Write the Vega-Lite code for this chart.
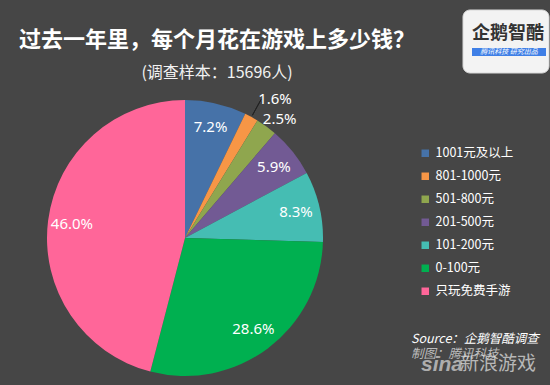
{
  "$schema": "https://vega.github.io/schema/vega-lite/v6.json",
  "width": 370,
  "height": 294,
  "autosize": {"type": "none"},
  "padding": {"left": 0, "top": 91, "right": 180, "bottom": 0},
  "background": "#464646",
  "title": {
    "text": "过去一年里，每个月花在游戏上多少钱？",
    "subtitle": "(调查样本：15696人)",
    "anchor": "middle",
    "frame": "group",
    "dx": 32,
    "dy": 72,
    "offset": 0,
    "font": "Noto Sans CJK SC",
    "fontSize": 22,
    "fontWeight": "bold",
    "color": "#ffffff",
    "subtitleFont": "Noto Sans CJK SC",
    "subtitleFontSize": 16,
    "subtitleColor": "#f2f2f2",
    "subtitlePadding": 13
  },
  "config": {"view": {"stroke": null}},
  "data": {
    "values": [
      {"category": "1001元及以上", "share": 0.072, "order": 1},
      {"category": "801-1000元", "share": 0.016, "order": 2},
      {"category": "501-800元", "share": 0.025, "order": 3},
      {"category": "201-500元", "share": 0.059, "order": 4},
      {"category": "101-200元", "share": 0.083, "order": 5},
      {"category": "0-100元", "share": 0.286, "order": 6},
      {"category": "只玩免费手游", "share": 0.460, "order": 7}
    ]
  },
  "layer": [
    {
      "mark": {"type": "arc", "outerRadius": 138},
      "encoding": {
        "theta": {"field": "share", "type": "quantitative", "stack": true},
        "order": {"field": "order"},
        "color": {
          "field": "category",
          "type": "nominal",
          "scale": {
            "domain": ["1001元及以上", "801-1000元", "501-800元", "201-500元", "101-200元", "0-100元", "只玩免费手游"],
            "range": ["#4672a8", "#f79646", "#8fa64e", "#725a94", "#45bdb3", "#00b050", "#ff6699"]
          },
          "legend": {
            "title": null,
            "orient": "none",
            "legendX": 419,
            "legendY": 56,
            "padding": 0,
            "symbolType": "square",
            "symbolSize": 56,
            "symbolStrokeWidth": 0,
            "labelFont": "Noto Sans CJK SC",
            "labelFontSize": 12.5,
            "labelColor": "#ffffff",
            "labelOffset": 4,
            "rowPadding": 10
          }
        }
      }
    },
    {
      "mark": {"type": "arc", "innerRadius": 140, "outerRadius": 158, "padAngle": 0.3, "fill": "#222222", "stroke": "#222222", "strokeWidth": 1},
      "encoding": {
        "theta": {"field": "share", "type": "quantitative", "stack": true},
        "order": {"field": "order"},
        "opacity": {"condition": {"test": "datum.category === '801-1000元'", "value": 1}, "value": 0}
      }
    },
    {
      "mark": {"type": "text", "radius": 114, "font": "Noto Sans", "fontSize": 15, "fill": "#ffffff"},
      "encoding": {
        "theta": {"field": "share", "type": "quantitative", "stack": true},
        "order": {"field": "order"},
        "text": {"field": "share", "type": "quantitative", "format": ".1%"},
        "opacity": {"condition": {"test": "datum.share >= 0.05", "value": 1}, "value": 0}
      }
    },
    {
      "mark": {"type": "text", "radius": 152, "font": "Noto Sans", "fontSize": 15, "fill": "#ffffff", "dx": 5, "dy": 4},
      "encoding": {
        "theta": {"field": "share", "type": "quantitative", "stack": true},
        "order": {"field": "order"},
        "text": {"field": "share", "type": "quantitative", "format": ".1%"},
        "opacity": {"condition": {"test": "datum.category === '501-800元'", "value": 1}, "value": 0}
      }
    },
    {
      "mark": {"type": "text", "radius": 162, "font": "Noto Sans", "fontSize": 15, "fill": "#ffffff", "dx": 12, "dy": 3},
      "encoding": {
        "theta": {"field": "share", "type": "quantitative", "stack": true},
        "order": {"field": "order"},
        "text": {"field": "share", "type": "quantitative", "format": ".1%"},
        "opacity": {"condition": {"test": "datum.category === '801-1000元'", "value": 1}, "value": 0}
      }
    },
    {
      "data": {"values": [{"note": "logo"}]},
      "mark": {"type": "rect", "fill": "#f3f3f3", "stroke": "#d8d8d8", "cornerRadius": 7},
      "encoding": {"x": {"value": 463}, "x2": {"value": 549}, "y": {"value": -81}, "y2": {"value": -18}}
    },
    {
      "data": {"values": [{"note": "企鹅智酷"}]},
      "mark": {"type": "text", "font": "Noto Sans CJK SC", "fontSize": 18, "fontWeight": "bold", "fill": "#333333", "baseline": "middle"},
      "encoding": {"text": {"field": "note"}, "x": {"value": 508}, "y": {"value": -57}}
    },
    {
      "data": {"values": [{"note": "band"}]},
      "mark": {"type": "rect", "fill": "#3f7fe6"},
      "encoding": {"x": {"value": 472}, "x2": {"value": 546}, "y": {"value": -43}, "y2": {"value": -35}}
    },
    {
      "data": {"values": [{"note": "腾讯科技  研究出品"}]},
      "mark": {"type": "text", "font": "Noto Sans CJK SC", "fontSize": 7, "fontStyle": "italic", "fill": "#ffffff", "baseline": "middle"},
      "encoding": {"text": {"field": "note"}, "x": {"value": 509}, "y": {"value": -39}}
    },
    {
      "data": {"values": [{"note": "Source：企鹅智酷调查"}]},
      "mark": {"type": "text", "font": "Noto Sans CJK SC", "fontSize": 12.5, "fontStyle": "italic", "fill": "#ffffff", "align": "left", "baseline": "alphabetic"},
      "encoding": {"text": {"field": "note"}, "x": {"value": 411}, "y": {"value": 252}}
    },
    {
      "data": {"values": [{"note": "制图：腾讯科技"}]},
      "mark": {"type": "text", "font": "Noto Sans CJK SC", "fontSize": 12.5, "fontStyle": "italic", "fill": "#bbbbbb", "align": "left", "baseline": "alphabetic"},
      "encoding": {"text": {"field": "note"}, "x": {"value": 411}, "y": {"value": 267}}
    },
    {
      "data": {"values": [{"note": "sina"}]},
      "mark": {"type": "text", "font": "Liberation Sans", "fontSize": 21, "fontWeight": "bold", "fontStyle": "italic", "fill": "#d0d0d0", "opacity": 0.75, "align": "left", "baseline": "alphabetic"},
      "encoding": {"text": {"field": "note"}, "x": {"value": 421}, "y": {"value": 280}}
    },
    {
      "data": {"values": [{"note": "新浪游戏"}]},
      "mark": {"type": "text", "font": "Noto Sans CJK SC", "fontSize": 19, "fill": "#dddddd", "opacity": 0.75, "align": "left", "baseline": "alphabetic"},
      "encoding": {"text": {"field": "note"}, "x": {"value": 460}, "y": {"value": 279}}
    }
  ]
}
